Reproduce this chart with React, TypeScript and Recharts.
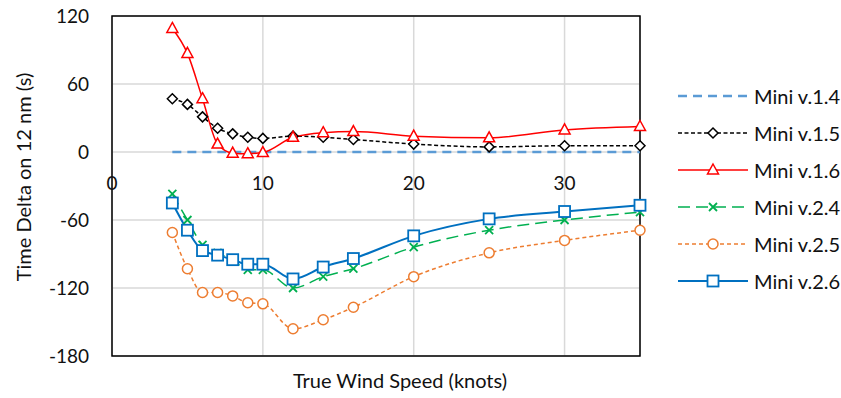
import React from "react";
import {
  ComposedChart,
  Line,
  XAxis,
  YAxis,
  CartesianGrid,
  Legend,
  ReferenceArea,
} from "recharts";

const speeds = [4, 5, 6, 7, 8, 9, 10, 12, 14, 16, 20, 25, 30, 35];

const miniV14 = [0, 0, 0, 0, 0, 0, 0, 0, 0, 0, 0, 0, 0, 0];
const miniV15 = [47, 42, 31, 21, 16, 13, 12, 14, 13, 11, 7, 4.5, 5.5, 5.5];
const miniV16 = [109, 87, 47, 7, -1, -1.5, -0.5, 13, 17, 18, 14, 12.5, 19.5, 22.5];
const miniV24 = [-37, -60, -82, -89, -95, -104, -104, -120, -110, -103, -84, -69, -60, -53];
const miniV25 = [-71, -103, -124, -124, -127, -133, -134, -156, -148, -137, -110, -89, -78, -69];
const miniV26 = [-45, -69, -87, -91, -95, -99, -99, -112, -101.5, -94, -74, -59, -52.5, -47];

const xTicks = [0, 10, 20, 30];
const yTicks = [-180, -120, -60, 0, 60, 120];

const data = speeds.map((speed, i) => ({
  speed,
  v14: miniV14[i],
  v15: miniV15[i],
  v16: miniV16[i],
  v24: miniV24[i],
  v25: miniV25[i],
  v26: miniV26[i],
}));

type MarkerKind = "none" | "diamond" | "triangle" | "x" | "circle" | "square";

const series: {
  key: string;
  name: string;
  color: string;
  dash?: string;
  width: number;
  marker: MarkerKind;
}[] = [
  { key: "v14", name: "Mini v.1.4", color: "#5B9BD5", dash: "9 6", width: 2.5, marker: "none" },
  { key: "v15", name: "Mini v.1.5", color: "#000000", dash: "4 2.5", width: 1.5, marker: "diamond" },
  { key: "v16", name: "Mini v.1.6", color: "#FF0000", width: 1.5, marker: "triangle" },
  { key: "v24", name: "Mini v.2.4", color: "#00B050", dash: "12 6", width: 1.5, marker: "x" },
  { key: "v25", name: "Mini v.2.5", color: "#ED7D31", dash: "4 3", width: 1.5, marker: "circle" },
  { key: "v26", name: "Mini v.2.6", color: "#0070C0", width: 2, marker: "square" },
];

const FONT = "Lato, 'Noto Sans', sans-serif";
const TOP = 16;
const PLOT_H = 340;
const ZERO_Y = TOP + PLOT_H * (120 / 300);

function Marker({ kind, cx, cy, color }: { kind: MarkerKind; cx: number; cy: number; color: string }) {
  if (cx == null || cy == null) return null;
  switch (kind) {
    case "diamond":
      return (
        <path
          d={`M${cx},${cy - 5} L${cx + 5},${cy} L${cx},${cy + 5} L${cx - 5},${cy} Z`}
          fill="#fff"
          stroke={color}
          strokeWidth={1.5}
        />
      );
    case "triangle":
      return (
        <path
          d={`M${cx},${cy - 6} L${cx + 5.5},${cy + 4} L${cx - 5.5},${cy + 4} Z`}
          fill="#fff"
          stroke={color}
          strokeWidth={1.5}
        />
      );
    case "x":
      return (
        <path
          d={`M${cx - 4},${cy - 4} L${cx + 4},${cy + 4} M${cx + 4},${cy - 4} L${cx - 4},${cy + 4}`}
          stroke={color}
          strokeWidth={1.8}
        />
      );
    case "circle":
      return <circle cx={cx} cy={cy} r={5} fill="#fff" stroke={color} strokeWidth={1.5} />;
    case "square":
      return (
        <rect x={cx - 5.5} y={cy - 5.5} width={11} height={11} fill="#fff" stroke={color} strokeWidth={1.8} />
      );
    default:
      return null;
  }
}

function LegendContent() {
  return (
    <div style={{ width: 201, height: 380, paddingTop: 61, boxSizing: "border-box" }}>
      {series.map((s) => (
        <div key={s.key} style={{ height: 37, display: "flex", alignItems: "center" }}>
          <svg width={70} height={16} style={{ marginLeft: 38 }}>
            <line
              x1={0}
              y1={8}
              x2={70}
              y2={8}
              stroke={s.color}
              strokeWidth={s.width}
              strokeDasharray={s.dash}
            />
            <Marker kind={s.marker} cx={35} cy={8} color={s.color} />
          </svg>
          <span style={{ marginLeft: 6, fontFamily: FONT, fontSize: 20, color: "#111", whiteSpace: "nowrap" }}>
            {s.name}
          </span>
        </div>
      ))}
    </div>
  );
}

function XTick({ x, payload }: any) {
  return (
    <text x={x} y={ZERO_Y + 38} textAnchor="middle" fontFamily={FONT} fontSize={19} fill="#111">
      {payload.value}
    </text>
  );
}

export default function App() {
  return (
    <div style={{ position: "absolute", left: 0, top: 0, background: "#fff" }}>
      <ComposedChart
        width={841}
        height={398}
        data={data}
        margin={{ top: TOP, right: 0, bottom: 0, left: 0 }}
      >
        <CartesianGrid stroke="#D9D9D9" strokeWidth={1.5} />
        <XAxis
          dataKey="speed"
          type="number"
          domain={[0, 35]}
          ticks={xTicks}
          height={42}
          axisLine={false}
          tickLine={false}
          tick={<XTick />}
          label={{
            content: ({ viewBox }: any) => (
              <text
                x={viewBox.x + viewBox.width / 2 + 24}
                y={viewBox.y + 32}
                textAnchor="middle"
                fontFamily={FONT}
                fontSize={20}
                fill="#111"
              >
                True Wind Speed (knots)
              </text>
            ),
          }}
        />
        <YAxis
          type="number"
          domain={[-180, 120]}
          ticks={yTicks}
          width={112}
          axisLine={false}
          tickLine={false}
          tickSize={0}
          tickMargin={23}
          tick={{ fontFamily: FONT, fontSize: 19, fill: "#111" }}
          label={{
            content: ({ viewBox }: any) => {
              const cx = viewBox.x + 23;
              const cy = viewBox.y + viewBox.height / 2 - 9;
              return (
                <text
                  x={cx}
                  y={cy}
                  transform={`rotate(-90, ${cx}, ${cy})`}
                  textAnchor="middle"
                  dominantBaseline="central"
                  fontFamily={FONT}
                  fontSize={20}
                  fill="#111"
                >
                  Time Delta on 12 nm (s)
                </text>
              );
            },
          }}
        />
        <ReferenceArea x1={0} x2={35} y1={-180} y2={120} fill="none" stroke="#000" strokeWidth={1.5} />
        <Legend layout="vertical" align="right" verticalAlign="top" content={<LegendContent />} />
        {series.map((s) => (
          <Line
            key={s.key}
            type="monotone"
            dataKey={s.key}
            name={s.name}
            stroke={s.color}
            strokeWidth={s.width}
            strokeDasharray={s.dash}
            isAnimationActive={false}
            dot={(p: any) => <Marker key={`${s.key}-${p.index}`} kind={s.marker} cx={p.cx} cy={p.cy} color={s.color} />}
            activeDot={false}
          />
        ))}
      </ComposedChart>
    </div>
  );
}
